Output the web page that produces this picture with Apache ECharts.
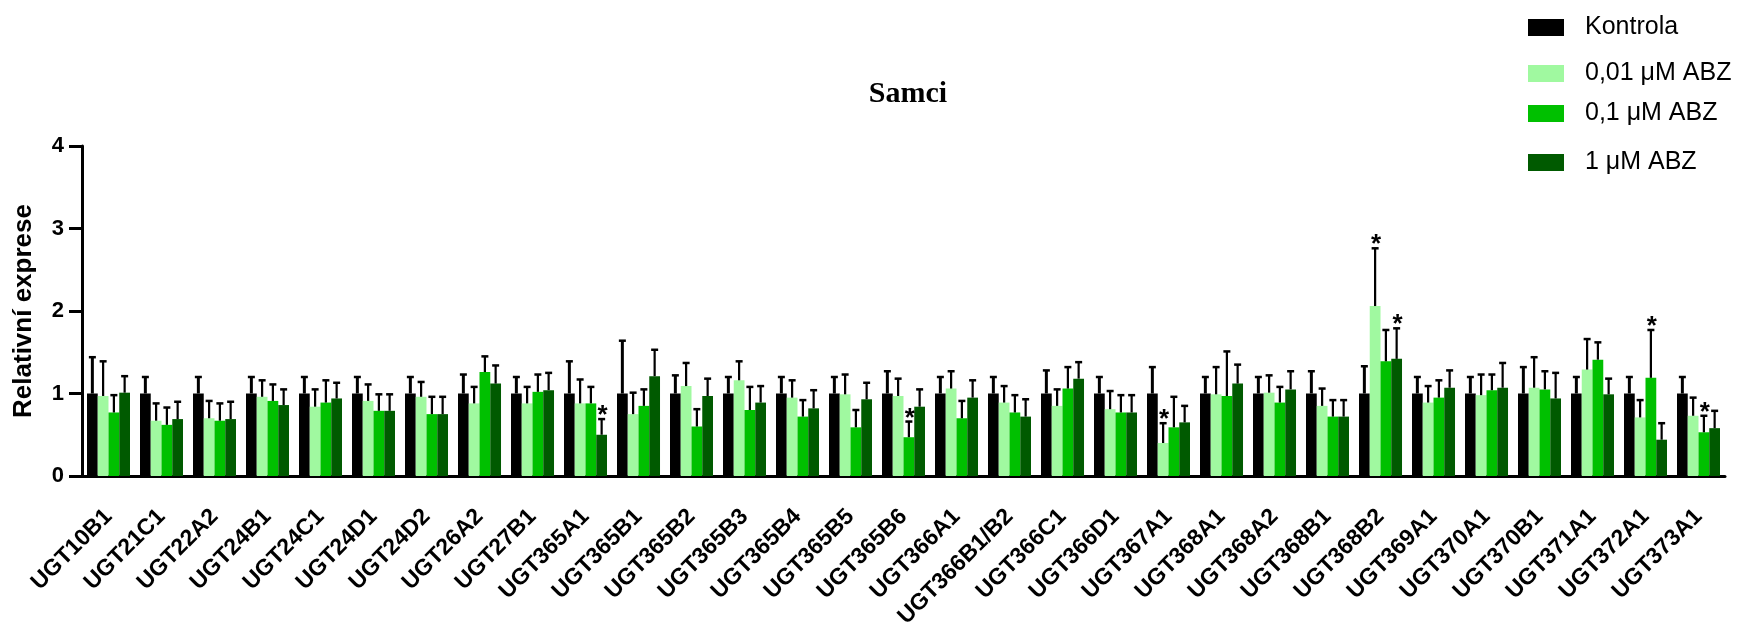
<!DOCTYPE html>
<html>
<head>
<meta charset="utf-8">
<script src="https://cdn.jsdelivr.net/npm/echarts@6/dist/echarts.min.js"></script>
<style>html,body{margin:0;padding:0;background:#fff}#c{width:1738px;height:627px}</style>
</head>
<body>
<div id="c"></div>
<script>
var categories = ["UGT10B1","UGT21C1","UGT22A2","UGT24B1","UGT24C1","UGT24D1","UGT24D2","UGT26A2","UGT27B1","UGT365A1","UGT365B1","UGT365B2","UGT365B3","UGT365B4","UGT365B5","UGT365B6","UGT366A1","UGT366B1/B2","UGT366C1","UGT366D1","UGT367A1","UGT368A1","UGT368A2","UGT368B1","UGT368B2","UGT369A1","UGT370A1","UGT370B1","UGT371A1","UGT372A1","UGT373A1"];
var seriesNames = ["Kontrola","0,01 \u03bcM ABZ","0,1 \u03bcM ABZ","1 \u03bcM ABZ"];
var yTicks = [0,1,2,3,4];

var kontrola = [1,1,1,1,1,1,1,1,1,1,1,1,1,1,1,1,1,1,1,1,1,1,1,1,1,1,1,1,1,1,1];
var kontrolaErr = [0.44,0.20,0.20,0.20,0.20,0.20,0.20,0.23,0.20,0.39,0.64,0.22,0.20,0.20,0.20,0.27,0.20,0.20,0.28,0.20,0.32,0.20,0.20,0.27,0.33,0.20,0.20,0.32,0.20,0.20,0.20];

var abz001 = [0.97,0.67,0.70,0.96,0.84,0.91,0.96,0.88,0.88,0.88,0.75,1.09,1.16,0.95,0.99,0.97,1.06,0.89,0.85,0.81,0.40,0.99,1.01,0.85,2.06,0.89,0.98,1.07,1.29,0.71,0.73];
var abz001Err = [0.42,0.21,0.21,0.20,0.21,0.20,0.18,0.20,0.20,0.29,0.26,0.28,0.23,0.21,0.24,0.21,0.21,0.20,0.20,0.22,0.24,0.33,0.21,0.21,0.70,0.20,0.25,0.37,0.37,0.21,0.22];

var abz01 = [0.77,0.62,0.67,0.91,0.89,0.79,0.75,1.26,1.02,0.88,0.85,0.60,0.80,0.72,0.59,0.47,0.70,0.77,1.06,0.77,0.59,0.97,0.89,0.72,1.39,0.95,1.04,1.05,1.41,1.19,0.53];
var abz01Err = [0.21,0.21,0.21,0.20,0.27,0.20,0.21,0.19,0.21,0.20,0.20,0.21,0.28,0.20,0.21,0.19,0.21,0.21,0.26,0.21,0.37,0.54,0.19,0.20,0.38,0.21,0.19,0.22,0.21,0.58,0.20];

var abz1 = [1.01,0.69,0.69,0.86,0.94,0.79,0.75,1.12,1.04,0.50,1.21,0.97,0.89,0.82,0.93,0.84,0.95,0.72,1.18,0.77,0.65,1.12,1.05,0.72,1.42,1.07,1.07,0.94,0.99,0.44,0.58];
var abz1Err = [0.20,0.21,0.21,0.19,0.19,0.20,0.21,0.22,0.21,0.19,0.32,0.21,0.20,0.22,0.20,0.21,0.21,0.21,0.20,0.21,0.20,0.23,0.22,0.20,0.37,0.21,0.30,0.31,0.19,0.20,0.21];

// significance (*) indices per series
var sigKontrola = [];
var sigAbz001 = [20, 24];
var sigAbz01 = [15, 29, 30];
var sigAbz1 = [9, 24];

var colors = ["#000000", "#A0F9A0", "#00C000", "#005A00"];
var FONT = "Liberation Sans, Arial, sans-serif";
var BARW = 0.203;
var legendTops = [10, 56, 96, 145];

var means = [kontrola, abz001, abz01, abz1];
var errs = [kontrolaErr, abz001Err, abz01Err, abz1Err];
var sigs = [sigKontrola, sigAbz001, sigAbz01, sigAbz1];

var chart = echarts.init(document.getElementById('c'), null, {renderer: 'canvas'});

var series = [];
means.forEach(function (m, k) {
  series.push({
    name: seriesNames[k],
    type: 'bar',
    data: m,
    barWidth: (BARW * 100) + '%',
    barGap: '0%',
    itemStyle: {color: colors[k]},
    emphasis: {disabled: true},
    z: 2
  });
});
means.forEach(function (m, k) {
  var d = m.map(function (v, i) {
    return [i, v, v + errs[k][i], sigs[k].indexOf(i) >= 0 ? 1 : 0];
  });
  series.push({
    type: 'custom',
    data: d,
    z: 3,
    silent: true,
    renderItem: function (params, api) {
      var i = api.value(0);
      var band = api.size([1, 0])[0];
      var off = (k - 1.5) * band * BARW;
      var p0 = api.coord([i, api.value(1)]);
      var p1 = api.coord([i, api.value(2)]);
      var x = p0[0] + off;
      var lw = k === 0 ? 3 : 2.2;
      var children = [
        {type: 'line', shape: {x1: x, y1: p0[1], x2: x, y2: p1[1]}, style: {stroke: '#000', lineWidth: lw}},
        {type: 'line', shape: {x1: x - 3.5, y1: p1[1], x2: x + 3.5, y2: p1[1]}, style: {stroke: '#000', lineWidth: 2.5}}
      ];
      if (api.value(3)) {
        children.push({type: 'text', style: {text: '*', x: x + 1, y: p1[1] - 3, align: 'center', verticalAlign: 'middle', font: 'bold 26px ' + FONT, fill: '#000'}});
      }
      return {type: 'group', children: children};
    }
  });
});

var legends = seriesNames.map(function (n, k) {
  return {
    orient: 'vertical',
    left: 1523,
    top: legendTops[k],
    itemWidth: 36,
    itemHeight: 17,
    data: [n],
    icon: 'rect',
    textStyle: {fontFamily: FONT, fontSize: 25, lineHeight: 25, color: '#000', padding: [0, 0, 0, 16]}
  };
});

chart.setOption({
  animation: false,
  backgroundColor: '#fff',
  title: {
    text: 'Samci',
    left: 903,
    textAlign: 'center',
    top: 74,
    textStyle: {fontFamily: 'Liberation Serif, Times New Roman, serif', fontWeight: 'bold', fontSize: 30, color: '#000'}
  },
  legend: legends,
  grid: {left: 82, right: 13, top: 146, bottom: 151, containLabel: false, outerBoundsMode: 'none'},
  xAxis: {
    type: 'category',
    data: categories,
    axisLine: {lineStyle: {color: '#000', width: 3}},
    axisTick: {show: false},
    axisLabel: {rotate: 45, interval: 0, margin: 37, fontFamily: FONT, fontWeight: 'bold', fontSize: 23, color: '#000'}
  },
  yAxis: {
    type: 'value',
    min: yTicks[0],
    max: yTicks[yTicks.length - 1],
    interval: 1,
    name: 'Relativn\u00ed exprese',
    nameLocation: 'middle',
    nameGap: 45,
    nameTextStyle: {fontFamily: FONT, fontWeight: 'bold', fontSize: 26, color: '#000'},
    splitLine: {show: false},
    axisLine: {show: true, lineStyle: {color: '#000', width: 3}},
    axisTick: {show: true, length: 13, lineStyle: {color: '#000', width: 3}},
    axisLabel: {margin: 18, fontFamily: FONT, fontWeight: 'bold', fontSize: 22, color: '#000'}
  },
  series: series
});
</script>
</body>
</html>
